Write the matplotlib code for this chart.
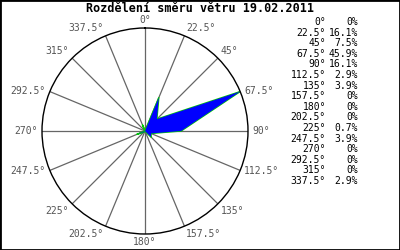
import numpy as np
import matplotlib
matplotlib.use("Agg")
import matplotlib.pyplot as plt
from matplotlib.patches import Rectangle

# wind direction sectors (degrees) and share (%)
directions = [0, 22.5, 45, 67.5, 90, 112.5, 135, 157.5, 180, 202.5, 225, 247.5, 270, 292.5, 315, 337.5]
dir_labels = ["0°", "22.5°", "45°", "67.5°", "90°", "112.5°", "135°", "157.5°",
              "180°", "202.5°", "225°", "247.5°", "270°", "292.5°", "315°", "337.5°"]
shares = [0, 16.1, 7.5, 45.9, 16.1, 2.9, 3.9, 0, 0, 0, 0.7, 3.9, 0, 0, 0, 2.9]
share_labels = ["0%", "16.1%", "7.5%", "45.9%", "16.1%", "2.9%", "3.9%", "0%",
                "0%", "0%", "0.7%", "3.9%", "0%", "0%", "0%", "2.9%"]
title = "Rozdělení směru větru 19.02.2011"

mono = "DejaVu Sans Mono"

fig = plt.figure(figsize=(4, 2.5), dpi=100)
fig.patch.set_facecolor("white")
fig.patches.append(Rectangle((0, 0), 1, 1, transform=fig.transFigure, fill=False,
                             edgecolor="black", linewidth=2))

fig.text(0.5, 1 - 8 / 250, title, ha="center", va="center", fontsize=8.5,
         fontweight="bold", family=mono)

ax = fig.add_axes([0.105, 0.064, 0.515, 0.824], projection="polar")
ax.set_theta_zero_location("N")
ax.set_theta_direction(-1)
rmax = max(shares)
ax.set_ylim(0, rmax)
ax.grid(False)
ax.set_xticks([])
ax.set_yticks([])
ax.spines["polar"].set_color("black")
ax.spines["polar"].set_linewidth(1.0)

theta = np.deg2rad(directions)
for t in theta:
    ax.plot([t, t], [0, rmax], color="#666666", lw=0.9, zorder=1)

th_closed = np.append(theta, theta[0])
r_closed = np.append(shares, shares[0])
ax.plot(th_closed, r_closed, color="#00cc00", lw=1.0, zorder=2)
ax.fill(th_closed, r_closed, facecolor="#0000ff", edgecolor="none", zorder=3)

for t, lab in zip(theta, dir_labels):
    s, c = np.sin(t), np.cos(t)
    ha = "left" if s > 0.1 else ("right" if s < -0.1 else "center")
    va = "bottom" if c > 0.5 else ("top" if c < -0.5 else "center")
    ax.annotate(lab, xy=(t, rmax), xytext=(s * 3, c * 2), textcoords="offset points",
                ha=ha, va=va, fontsize=7, family=mono, color="#555555",
                annotation_clip=False)

# table of values on the right
y0, dy = 1 - 22 / 250, 10.6 / 250
for i, (dl, sl) in enumerate(zip(dir_labels, share_labels)):
    y = y0 - i * dy
    fig.text(326 / 400, y, dl, ha="right", va="center", fontsize=7, family=mono)
    fig.text(358 / 400, y, sl, ha="right", va="center", fontsize=7, family=mono)

fig.savefig("out.png", dpi=100)
